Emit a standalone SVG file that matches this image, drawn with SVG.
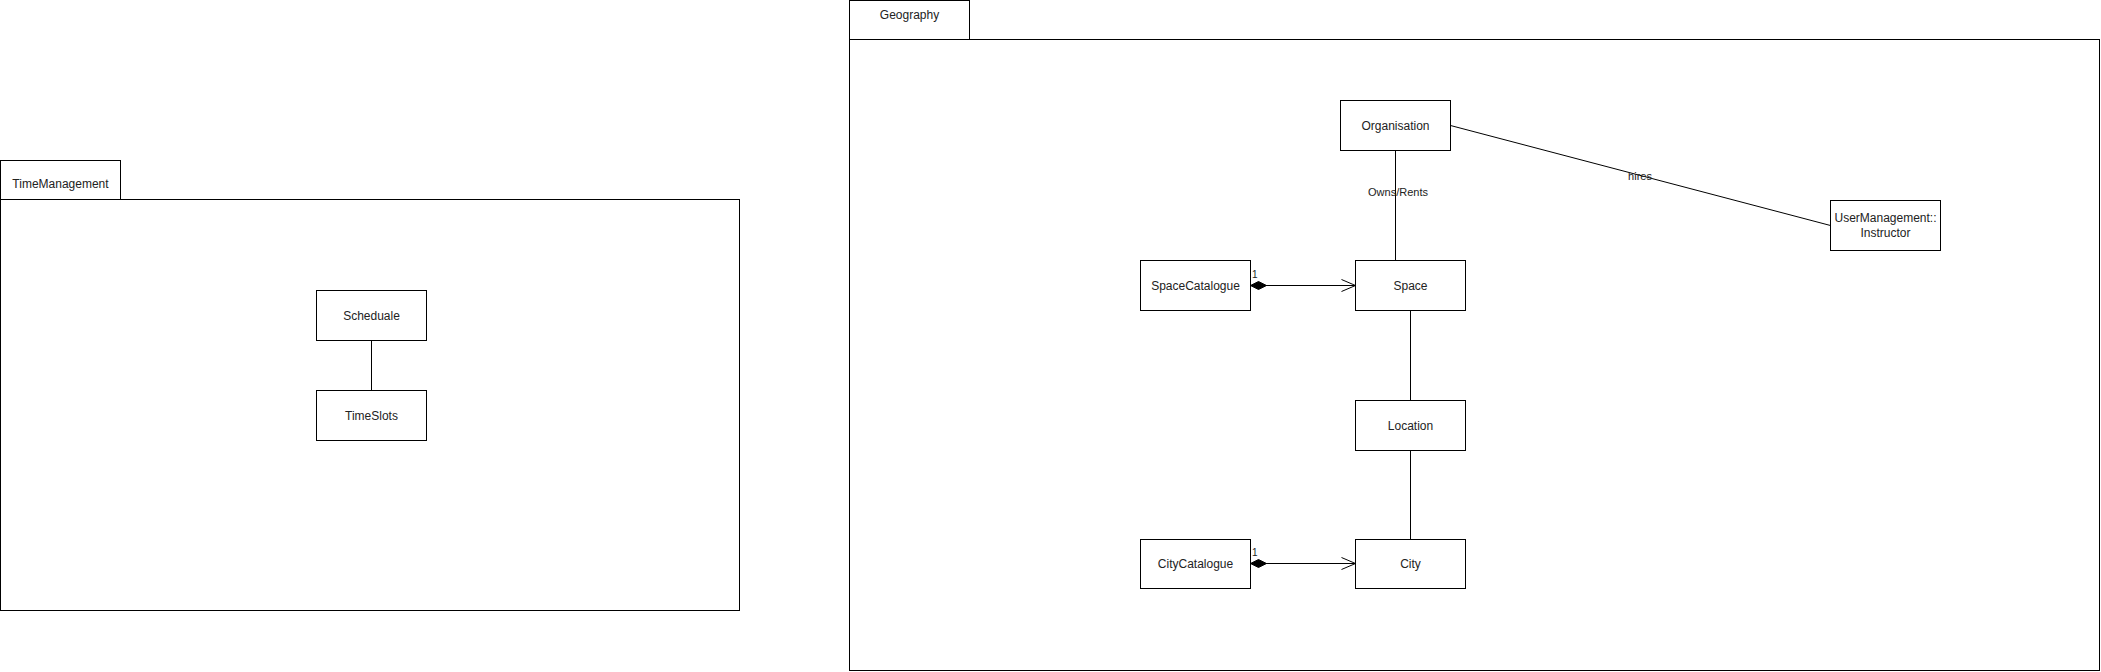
<svg xmlns="http://www.w3.org/2000/svg" width="2101" height="672" viewBox="0 0 2101 672">
<style>
.box{fill:#fff;stroke:#000;stroke-width:1}
.pkg{fill:#fff;stroke:#000;stroke-width:1}
.lbl{font-family:"Liberation Sans",Arial,sans-serif;font-size:12px;fill:#222;text-anchor:middle}
.elbl{font-family:"Liberation Sans",Arial,sans-serif;font-size:11px;fill:#222;text-anchor:middle}
.mult{font-family:"Liberation Sans",Arial,sans-serif;font-size:10px;fill:#222}
.edge{fill:none;stroke:#000;stroke-width:1}
</style>
<defs>
<marker id="diamond" markerUnits="userSpaceOnUse" markerWidth="18" markerHeight="10" refX="0" refY="4" orient="auto" overflow="visible">
<path d="M0,4 L8,0 L16,4 L8,8 Z" fill="#000" stroke="#000" stroke-width="1"/>
</marker>
<marker id="open" markerUnits="userSpaceOnUse" markerWidth="16" markerHeight="14" refX="14" refY="6" orient="auto" overflow="visible">
<path d="M0,0 L14,6 L0,12" fill="none" stroke="#000" stroke-width="1"/>
</marker>
</defs>
<rect width="2101" height="672" fill="#fff"/>

<g id="pkg-timemanagement">
<rect class="pkg" x="0.5" y="160.5" width="120" height="39"/>
<rect class="pkg" x="0.5" y="199.5" width="739" height="411"/>
<text class="lbl" x="60.5" y="188">TimeManagement</text>
</g>

<g id="pkg-geography">
<rect class="pkg" x="849.5" y="0.5" width="120" height="39"/>
<rect class="pkg" x="849.5" y="39.5" width="1250" height="631"/>
<text class="lbl" x="909.5" y="19">Geography</text>
</g>

<g id="connectors">
<path class="edge" d="M371.5,340.5 L371.5,390.5"/>
<path class="edge" d="M1395.5,150.5 L1395.5,260.5"/>
<path class="edge" d="M1410.5,310.5 L1410.5,400.5"/>
<path class="edge" d="M1410.5,450.5 L1410.5,539.5"/>
<path class="edge" d="M1450.5,125.5 L1830.5,225.5"/>
<path class="edge" d="M1250.5,285.5 L1355.5,285.5" marker-start="url(#diamond)" marker-end="url(#open)"/>
<path class="edge" d="M1250.5,563.5 L1355.5,563.5" marker-start="url(#diamond)" marker-end="url(#open)"/>
<text class="elbl" x="1398" y="195.5">Owns/Rents</text>
<text class="elbl" x="1640" y="179.5">hires</text>
<text class="mult" x="1252" y="278">1</text>
<text class="mult" x="1252" y="556">1</text>
</g>

<g id="node-scheduale">
<rect class="box" x="316.5" y="290.5" width="110" height="50"/>
<text class="lbl" x="371.5" y="319.5">Scheduale</text>
</g>
<g id="node-timeslots">
<rect class="box" x="316.5" y="390.5" width="110" height="50"/>
<text class="lbl" x="371.5" y="419.5">TimeSlots</text>
</g>
<g id="node-organisation">
<rect class="box" x="1340.5" y="100.5" width="110" height="50"/>
<text class="lbl" x="1395.5" y="129.5">Organisation</text>
</g>
<g id="node-space">
<rect class="box" x="1355.5" y="260.5" width="110" height="50"/>
<text class="lbl" x="1410.5" y="289.5">Space</text>
</g>
<g id="node-spacecatalogue">
<rect class="box" x="1140.5" y="260.5" width="110" height="50"/>
<text class="lbl" x="1195.5" y="289.5">SpaceCatalogue</text>
</g>
<g id="node-location">
<rect class="box" x="1355.5" y="400.5" width="110" height="50"/>
<text class="lbl" x="1410.5" y="429.5">Location</text>
</g>
<g id="node-city">
<rect class="box" x="1355.5" y="539.5" width="110" height="49" stroke="#666"/>
<text class="lbl" x="1410.5" y="568">City</text>
</g>
<g id="node-citycatalogue">
<rect class="box" x="1140.5" y="539.5" width="110" height="49"/>
<text class="lbl" x="1195.5" y="568">CityCatalogue</text>
</g>
<g id="node-instructor">
<rect class="box" x="1830.5" y="200.5" width="110" height="50"/>
<text class="lbl" x="1885.5" y="222">UserManagement::</text>
<text class="lbl" x="1885.5" y="237">Instructor</text>
</g>
</svg>
